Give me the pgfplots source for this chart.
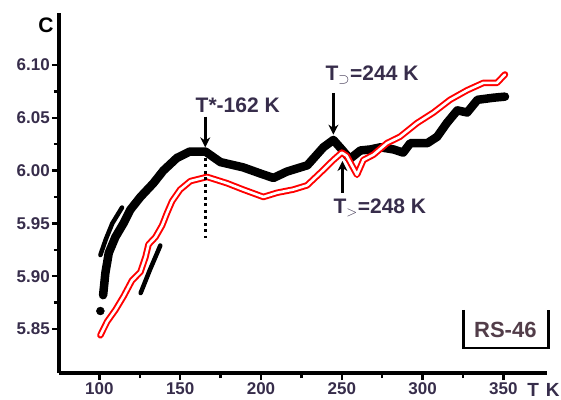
\documentclass[border=0pt]{standalone}
\usepackage{fontspec}
\setmainfont{Liberation Sans}
\usepackage{pgfplots}
\pgfplotsset{compat=1.18}
\usetikzlibrary{arrows.meta}
\definecolor{tickcol}{RGB}{55,45,75}
\begin{document}
\begin{tikzpicture}[x=1pt,y=1pt]
\path[use as bounding box] (-59pt,-26pt) rectangle (502pt,373pt);
\begin{axis}[
 scale only axis, width=488pt, height=360pt,
 at={(0pt,0pt)}, anchor=south west,
 xmin=75, xmax=377, ymin=5.8083, ymax=6.1492,
 axis x line=bottom, axis y line=left,
 axis line style={-, line width=3.5pt},
 xtick={100,150,200,250,300,350},
 ytick={5.85,5.90,5.95,6.00,6.05,6.10},
 minor tick num=1,
 tick align=outside,
 major tick length=7pt, minor tick length=5pt,
 tick style={black, line width=2.5pt},
 /pgf/number format/assume math mode=true,
 ticklabel style={font=\bfseries\fontsize{17}{17}\selectfont, text=tickcol},
 yticklabel style={/pgf/number format/fixed, /pgf/number format/fixed zerofill, /pgf/number format/precision=2, inner sep=2pt},
 xticklabel style={/pgf/number format/fixed, inner sep=2pt},
 clip=false,
]
% black main curve
\addplot[black, line width=8.5pt, line join=round, line cap=round] coordinates {
(102.3,5.882) (103.7,5.903) (105.8,5.922) (109.9,5.937) (114.9,5.950) (119.2,5.963)
(125.4,5.975) (133.4,5.988) (139.6,6.000) (148,6.012) (156,6.018) (165.6,6.018)
(174.9,6.008) (189,6.003) (200,5.997) (207.7,5.993) (216,5.999) (228.7,6.005)
(238.6,6.022) (244.8,6.029) (250,6.020) (255,6.011) (261.5,6.019) (267.7,6.020)
(273.9,6.022) (282,6.020) (288,6.017) (292.4,6.026) (303,6.026) (309,6.032)
(315,6.045) (321.5,6.057) (327.6,6.055) (334,6.067) (344,6.069) (351,6.070)
};
% black separate segments
\addplot[black, line width=4.5pt, line cap=round] coordinates {
(100.6,5.920) (104,5.935) (108,5.950) (114,5.965)
};
\addplot[black, line width=4.5pt, line cap=round] coordinates {
(125.5,5.884) (131,5.905) (137.7,5.929)
};
\addplot[only marks, mark=*, mark size=4pt, black] coordinates {(100.6,5.867)};
% red curve (open circles)
\addplot[red, line width=6.5pt, line join=round, line cap=round] coordinates {
(100.6,5.844) (104.8,5.857) (109.9,5.868) (115,5.881) (120.2,5.896) (125.4,5.904)
(128.5,5.918) (130.4,5.930) (134.7,5.937) (138.8,5.948) (141.9,5.960) (145,5.971)
(150,5.982) (156.3,5.990) (166.6,5.994) (179,5.988) (189,5.982) (201.5,5.975)
(210,5.979) (220,5.982) (228.5,5.986) (236.8,5.998) (244.8,6.010) (250,6.017)
(253,6.014) (259.4,5.996) (263.4,6.010) (269.6,6.015) (278,6.026) (286,6.032)
(296.6,6.045) (306.8,6.055) (317,6.067) (327.5,6.076) (337.6,6.083) (346,6.083)
(351,6.091)
};
\addplot[white, line width=2.6pt, line join=round, line cap=round] coordinates {
(100.6,5.844) (104.8,5.857) (109.9,5.868) (115,5.881) (120.2,5.896) (125.4,5.904)
(128.5,5.918) (130.4,5.930) (134.7,5.937) (138.8,5.948) (141.9,5.960) (145,5.971)
(150,5.982) (156.3,5.990) (166.6,5.994) (179,5.988) (189,5.982) (201.5,5.975)
(210,5.979) (220,5.982) (228.5,5.986) (236.8,5.998) (244.8,6.010) (250,6.017)
(253,6.014) (259.4,5.996) (263.4,6.010) (269.6,6.015) (278,6.026) (286,6.032)
(296.6,6.045) (306.8,6.055) (317,6.067) (327.5,6.076) (337.6,6.083) (346,6.083)
(351,6.091)
};
% annotations
\draw[line width=3pt, -{Stealth[length=10pt,width=10pt]}] (axis cs:165.5,6.051) -- (axis cs:165.5,6.022);
\draw[line width=3pt, dash pattern=on 3pt off 3.5pt] (axis cs:165.8,6.012) -- (axis cs:165.8,5.936);
\node[anchor=west, font=\bfseries\fontsize{21}{21}\selectfont, text=tickcol, inner sep=0pt] at (axis cs:159.5,6.062) {T*-162 K};
\draw[line width=3pt, -{Stealth[length=10pt,width=10pt]}] (axis cs:244.8,6.0735) -- (axis cs:244.8,6.034);
\node[anchor=west, font=\bfseries\fontsize{21}{21}\selectfont, text=tickcol, inner sep=0pt] at (axis cs:239.9,6.0905) {T$_{\supset}$=244 K};
\draw[line width=3pt, -{Stealth[length=10pt,width=10pt]}] (axis cs:250.4,5.979) -- (axis cs:250.4,6.009);
\node[anchor=west, font=\bfseries\fontsize{21}{21}\selectfont, text=tickcol, inner sep=0pt] at (axis cs:244.8,5.9646) {T$_{>}$=248 K};
% RS-46 bracket
\draw[line width=2.5pt] (axis cs:325.2,5.868) -- (axis cs:325.2,5.832) -- (axis cs:377.8,5.832) -- (axis cs:377.8,5.868);
\node[font=\bfseries\fontsize{22}{22}\selectfont, text=tickcol!80!brown] at (axis cs:351.2,5.849) {RS-46};
% axis labels
\node[font=\bfseries\fontsize{21}{21}\selectfont] at (axis cs:67,6.138) {C};
\node[font=\bfseries\fontsize{19}{19}\selectfont, text=tickcol] at (axis cs:374.8,5.7922) {T\hspace{7pt}K};
\end{axis}
\end{tikzpicture}
\end{document}
